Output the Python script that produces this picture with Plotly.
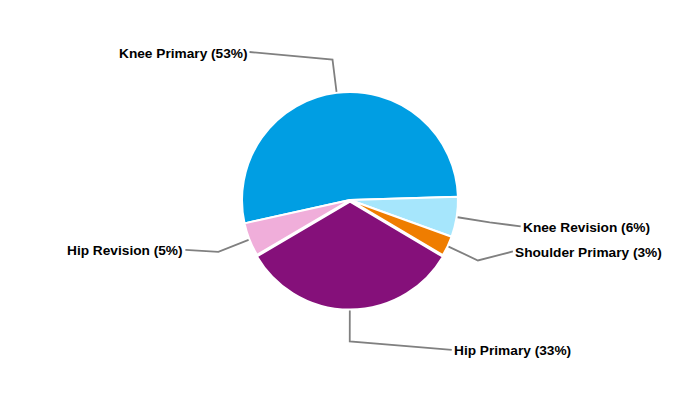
import math
import plotly.graph_objects as go

# ---- data ----
categories = ["Knee Primary", "Knee Revision", "Shoulder Primary", "Hip Primary", "Hip Revision"]
values = [53, 6, 3, 33, 5]
colors = ["#009EE3", "#A6E6FC", "#EF7D00", "#85107A", "#F0AEDA"]

# ---- layout / style constants ----
W, H = 700, 400
PAGE = 8                           # browser body margin in pixels
CX, CY, R = 350, 200, 108          # pie centre and radius in window pixels
ROTATION = 257.5                   # start angle, clockwise from 12 o'clock
PULL = [0, 0, 0, 0.015, 0]
ELBOW = 1.31                       # elbow of leader line, in radii
label_offsets = [(-83, -7.6), (31, 4), (35, -9), (102, 8.3), (-33, -2)]
LINE_COLOR = "#808080"

total = sum(values)
maxpull = max(PULL)
half = R * (1 + maxpull)

def px2paper(x, y):
    return (x - PAGE) / W, 1 - (y - PAGE) / H

dx0, dy0 = px2paper(CX - half, CY + half)
dx1, dy1 = px2paper(CX + half, CY - half)

fig = go.Figure(go.Pie(
    labels=categories,
    values=values,
    sort=False,
    direction="clockwise",
    rotation=ROTATION,
    pull=PULL,
    marker=dict(colors=colors, line=dict(color="white", width=2)),
    textinfo="none",
    hoverinfo="label+percent",
    domain=dict(x=[dx0, dx1], y=[dy0, dy1]),
    showlegend=False,
))

shapes = []
annotations = []
cum = 0.0
for name, v, pull, (odx, ody) in zip(categories, values, PULL, label_offsets):
    mid = ROTATION + (cum + v / 2) / total * 360.0
    cum += v
    a = math.radians(mid)
    sx, sy = math.sin(a), -math.cos(a)
    shift = pull * R
    x0, y0 = CX + sx * (R + shift + 1), CY + sy * (R + shift + 1)
    x1, y1 = CX + sx * R * ELBOW, CY + sy * R * ELBOW
    x2, y2 = x1 + odx, y1 + ody
    p0, p1, p2 = px2paper(x0, y0), px2paper(x1, y1), px2paper(x2, y2)
    shapes.append(dict(
        type="path", xref="paper", yref="paper",
        path=f"M {p0[0]} {p0[1]} L {p1[0]} {p1[1]} L {p2[0]} {p2[1]}",
        line=dict(color=LINE_COLOR, width=1.8),
    ))
    pct = round(v / total * 100)
    right_side = odx > 0
    annotations.append(dict(
        xref="paper", yref="paper",
        x=p2[0], y=p2[1],
        xanchor="left" if right_side else "right",
        yanchor="middle",
        text=f"<b>{name} ({pct}%)</b>",
        showarrow=False,
        font=dict(family="Arial, Liberation Sans, sans-serif", size=13.7, color="#000000"),
        yshift=-1,
    ))

fig.update_layout(
    width=W, height=H,
    margin=dict(l=0, r=0, t=0, b=0),
    paper_bgcolor="white",
    plot_bgcolor="white",
    shapes=shapes,
    annotations=annotations,
)

fig.write_html("out.html")
